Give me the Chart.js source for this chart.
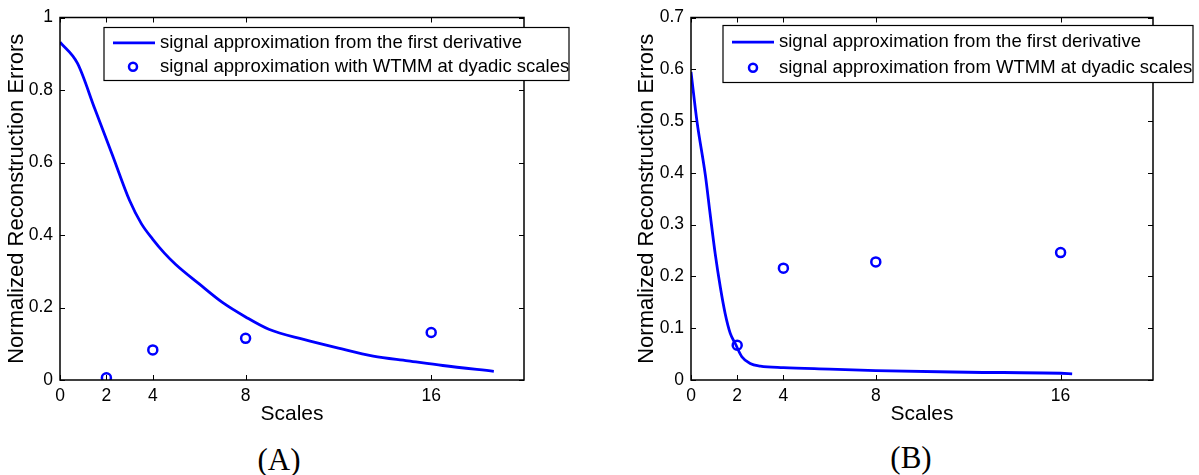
<!DOCTYPE html>
<html>
<head>
<meta charset="utf-8">
<script src="https://cdn.jsdelivr.net/npm/chart.js@4.4.1/dist/chart.umd.min.js"></script>
<style>
  body { margin: 0; background: #fff; width: 1199px; height: 475px; position: relative; overflow: hidden; }
  canvas { position: absolute; top: 0; }
  .cap { position: absolute; font-family: 'Liberation Serif', 'DejaVu Serif', serif; font-size: 31px; color: #000; transform: translate(-50%, -50%); white-space: nowrap; }
</style>
</head>
<body>
<canvas id="chartA" width="600" height="430" style="left:0"></canvas>
<canvas id="chartB" width="569" height="430" style="left:630px"></canvas>
<div class="cap" style="left:279px; top:460px">(A)</div>
<div class="cap" style="left:911px; top:458px">(B)</div>
<script>
// valeurs
const xTicks = [0, 2, 4, 8, 16];
const dyadicScales = [2, 4, 8, 16];

const derivScalesA = [0, 0.75, 1.5, 2.25, 3.0, 3.5, 4.0, 4.5, 5.0, 6.0, 7.0, 8.0, 9.0, 10.5, 12.0, 13.5, 15.0, 16.5, 18.7];
const derivErrA = [0.932, 0.874, 0.748, 0.622, 0.495, 0.432, 0.388, 0.350, 0.318, 0.265, 0.214, 0.174, 0.140, 0.112, 0.088, 0.066, 0.053, 0.040, 0.024];
const wtmmErrA = [0.006, 0.083, 0.115, 0.131];
const yTicksA = [0, 0.2, 0.4, 0.6, 0.8, 1];
const legendA = ['signal approximation from the first derivative', 'signal approximation with WTMM at dyadic scales'];

const derivScalesB = [0, 0.26, 0.62, 0.83, 1.05, 1.27, 1.48, 1.70, 1.92, 2.2, 2.56, 3.0, 4.0, 6.0, 8.0, 12.0, 16.0, 16.5];
const derivErrB = [0.595, 0.499, 0.396, 0.32, 0.243, 0.179, 0.128, 0.090, 0.070, 0.045, 0.032, 0.027, 0.024, 0.021, 0.018, 0.015, 0.013, 0.012];
const wtmmErrB = [0.067, 0.216, 0.228, 0.246];
const yTicksB = [0, 0.1, 0.2, 0.3, 0.4, 0.5, 0.6, 0.7];
const legendB = ['signal approximation from the first derivative', 'signal approximation from WTMM at dyadic scales'];

const BLUE = '#0000ff';
Chart.defaults.font.family = "'Liberation Sans', Arial, sans-serif";
Chart.defaults.color = '#000';

// cadre + graduations vers l'intérieur sur les 4 côtés (style matlab)
const boxTicks = {
  id: 'boxTicks',
  afterDatasetsDraw(chart) {
    const { ctx, chartArea: a, scales } = chart;
    ctx.save();
    ctx.strokeStyle = '#000';
    ctx.lineWidth = 1;
    const len = 5;
    ctx.beginPath();
    scales.x.ticks.forEach(t => {
      const px = Math.round(scales.x.getPixelForValue(t.value)) + 0.5;
      ctx.moveTo(px, a.bottom); ctx.lineTo(px, a.bottom - len);
      ctx.moveTo(px, a.top); ctx.lineTo(px, a.top + len);
    });
    scales.y.ticks.forEach(t => {
      const py = Math.round(scales.y.getPixelForValue(t.value)) + 0.5;
      ctx.moveTo(a.left, py); ctx.lineTo(a.left + len, py);
      ctx.moveTo(a.right, py); ctx.lineTo(a.right - len, py);
    });
    ctx.stroke();
    ctx.lineWidth = 1.5;
    ctx.strokeRect(a.left, a.top, a.right - a.left, a.bottom - a.top);
    ctx.restore();
  },
  afterDraw(chart, args, opts) {
    const { ctx, chartArea: a } = chart;
    const x = a.left + opts.dx, y = a.top + opts.dy;
    ctx.save();
    ctx.fillStyle = '#fff';
    ctx.fillRect(x, y, opts.w, opts.h);
    ctx.strokeStyle = '#000';
    ctx.lineWidth = 1.2;
    ctx.strokeRect(x, y, opts.w, opts.h);
    const row1 = y + opts.h * 0.29, row2 = y + opts.h * 0.74;
    ctx.strokeStyle = BLUE;
    ctx.lineWidth = 2.8;
    ctx.beginPath();
    ctx.moveTo(x + 9, row1); ctx.lineTo(x + 51, row1);
    ctx.stroke();
    ctx.lineWidth = 2.5;
    ctx.beginPath();
    ctx.arc(x + opts.mx, row2, 4, 0, Math.PI * 2);
    ctx.stroke();
    ctx.fillStyle = '#000';
    ctx.font = "18.5px 'Liberation Sans', Arial, sans-serif";
    ctx.textBaseline = 'middle';
    ctx.fillText(opts.labels[0], x + opts.tx, row1);
    ctx.fillText(opts.labels[1], x + opts.tx, row2);
    ctx.restore();
  }
};

function makeChart(id, lineX, lineY, pts, yTicks, labels, yAxisW, padRight, leg) {
  return new Chart(document.getElementById(id), {
    type: 'scatter',
    data: {
      datasets: [
        {
          data: lineX.map((v, i) => ({ x: v, y: lineY[i] })),
          showLine: true,
          borderColor: BLUE,
          borderWidth: 2.8,
          pointRadius: 0,
          cubicInterpolationMode: 'monotone',
        },
        {
          data: dyadicScales.map((v, i) => ({ x: v, y: pts[i] })),
          showLine: false,
          pointStyle: 'circle',
          pointRadius: 4.5,
          pointBorderWidth: 2.5,
          pointBorderColor: BLUE,
          pointBackgroundColor: 'rgba(0,0,0,0)',
        },
      ],
    },
    options: {
      responsive: false,
      animation: false,
      layout: { padding: { top: 15, right: padRight, left: 0, bottom: 0 } },
      plugins: {
        legend: { display: false },
        tooltip: { enabled: false },
        boxTicks: { labels, ...leg },
      },
      scales: {
        x: {
          type: 'linear', min: 0, max: 20,
          afterBuildTicks: s => { s.ticks = xTicks.map(v => ({ value: v })); },
          afterFit: s => { s.height = 50; },
          grid: { display: false, drawTicks: false },
          border: { display: false },
          ticks: { autoSkip: false, maxRotation: 0, padding: 6, font: { size: 17.5 }, color: '#000' },
          title: { display: true, text: 'Scales', font: { size: 21 }, color: '#000', padding: { top: 0, bottom: 3 } },
        },
        y: {
          type: 'linear', min: yTicks[0], max: yTicks[yTicks.length - 1],
          afterBuildTicks: s => { s.ticks = yTicks.map(v => ({ value: v })); },
          afterFit: s => { s.width = yAxisW; },
          grid: { display: false, drawTicks: false },
          border: { display: false },
          ticks: { padding: 7, font: { size: 17.5 }, color: '#000', callback: v => String(+v.toFixed(1)) },
          title: { display: true, text: 'Normalized Reconstruction Errors', font: { size: 22 }, color: '#000', padding: { top: 4, bottom: 0 } },
        },
      },
    },
    plugins: [boxTicks],
  });
}

makeChart('chartA', derivScalesA, derivErrA, wtmmErrA, yTicksA, legendA, 60, 76,
  { dx: 44, dy: 10, w: 465, h: 53, tx: 56, mx: 29 });
makeChart('chartB', derivScalesB, derivErrB, wtmmErrB, yTicksB, legendB, 61, 46,
  { dx: 32, dy: 8, w: 470, h: 57, tx: 56, mx: 30 });
</script>
</body>
</html>
